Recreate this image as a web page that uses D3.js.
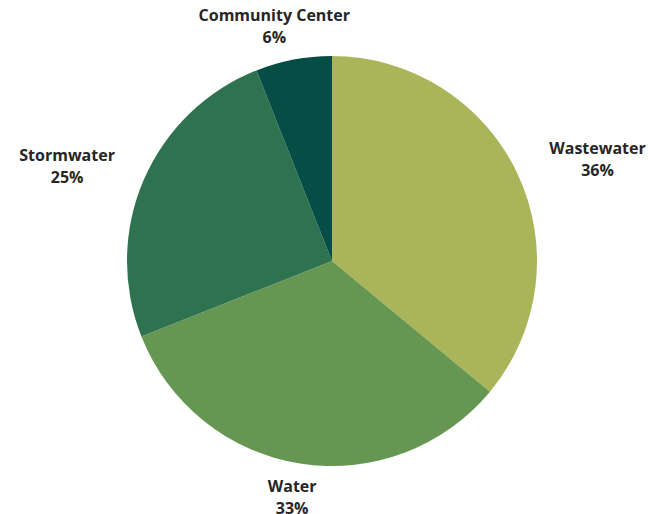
<!DOCTYPE html>
<html>
<head>
<meta charset="utf-8">
<script src="https://cdn.jsdelivr.net/npm/d3@7"></script>
<style>
  html, body { margin: 0; padding: 0; background: #fff; }
  svg { display: block; }
  .lbl { font-family: "Open Sans", sans-serif; font-weight: 700; font-size: 16px; fill: #262626; }
</style>
</head>
<body>
<svg id="chart" width="648" height="514"></svg>
<script>
// Share of spending by category (percent)
const categories = ["Wastewater", "Water", "Stormwater", "Community Center"];
const shares = [36, 33, 25, 6];
const colors = ["#aab55a", "#659753", "#2e7250", "#054d45"];

const width = 648, height = 514;
const cx = 332, cy = 261, radius = 205;

const svg = d3.select("#chart");
const g = svg.append("g").attr("transform", `translate(${cx},${cy})`);

const data = categories.map((c, i) => ({ name: c, value: shares[i], color: colors[i] }));

const pie = d3.pie().value(d => d.value).sort(null);
const arc = d3.arc().innerRadius(0).outerRadius(radius);
const arcs = pie(data);

g.selectAll("path.slice")
  .data(arcs)
  .join("path")
  .attr("class", "slice")
  .attr("d", arc)
  .attr("fill", d => d.data.color);

// Two-line labels outside each slice, pushed out by half their width
const labelR = radius + 30;
const labels = g.selectAll("text.lbl")
  .data(arcs)
  .join("text")
  .attr("class", "lbl")
  .attr("text-anchor", "middle");

labels.append("tspan").attr("class", "l1").text(d => d.data.name);
labels.append("tspan").attr("class", "l2").text(d => d.data.value + "%");

labels.each(function(d) {
  const t = d3.select(this);
  const a = (d.startAngle + d.endAngle) / 2;
  const s = Math.sin(a), c = Math.cos(a);
  const w = Math.max(
    t.select(".l1").node().getComputedTextLength(),
    t.select(".l2").node().getComputedTextLength()
  );
  const x = s * (labelR + w / 2 + 8) + 2;
  const y = -c * labelR - 5 - 4 * c;
  t.select(".l1").attr("x", x).attr("y", y);
  t.select(".l2").attr("x", x).attr("y", y + 22);
});
</script>
</body>
</html>
